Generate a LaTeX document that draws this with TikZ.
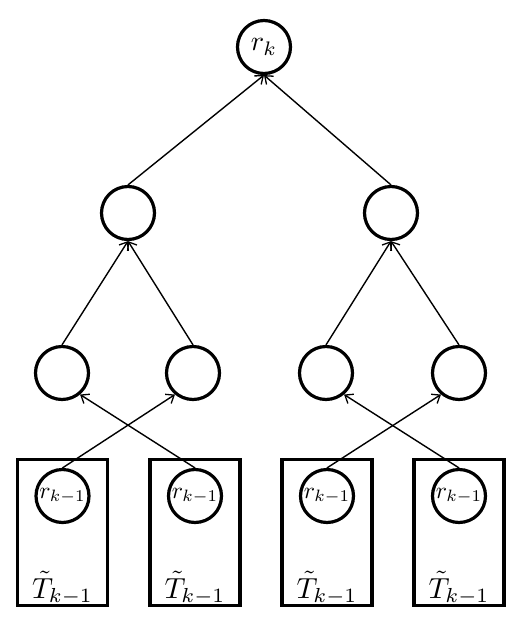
\documentclass[tikz,border=0pt]{standalone}
\usepackage{graphicx}
\usetikzlibrary{arrows.meta}
\begin{document}
\begin{tikzpicture}[x=1pt,y=-1pt,
  tnode/.style={circle,draw,line width=3.2pt,minimum size=53pt,inner sep=0pt},
  tbox/.style={draw,line width=3.2pt,minimum width=90pt,minimum height=146pt,inner sep=0pt},
  arr/.style={line width=1.4pt,-{Straight Barb[length=7pt,width=11pt,line width=1.3pt]}}]
\useasboundingbox (0,0) rectangle (522,622);
% top
\node[tnode] (r) at (264,47) {\scalebox{2.8}{$r_k$}};
% level 2
\node[tnode] (a) at (128,213) {};
\node[tnode] (b) at (391,213) {};
% level 3
\node[tnode] (a1) at (62,373) {};
\node[tnode] (a2) at (193,373) {};
\node[tnode] (b1) at (326,373) {};
\node[tnode] (b2) at (459,373) {};
% boxes
\foreach \i/\x in {1/62.5,2/195,3/327,4/459}{
  \node[tbox] (box\i) at (\x,532.5) {};
  \node[tnode] (c\i) at (\x,496) {\scalebox{2.35}{$r_{k-1}$}};
  \node[anchor=base,inner sep=0pt] (t\i) at (\x,598) {\scalebox{2.9}{$\tilde{T}_{k-1}$}};
}
% connectors
\draw[arr] (a.north) -- (r.south);
\draw[arr] (b.north) -- (r.south);
\draw[arr] (a1.north) -- (a.south);
\draw[arr] (a2.north) -- (a.south);
\draw[arr] (b1.north) -- (b.south);
\draw[arr] (b2.north) -- (b.south);
\draw[arr] (c1.north) -- (a2.230);
\draw[arr] (c2.north) -- (a1.-50);
\draw[arr] (c3.north) -- (b2.230);
\draw[arr] (c4.north) -- (b1.-50);
\end{tikzpicture}
\end{document}
